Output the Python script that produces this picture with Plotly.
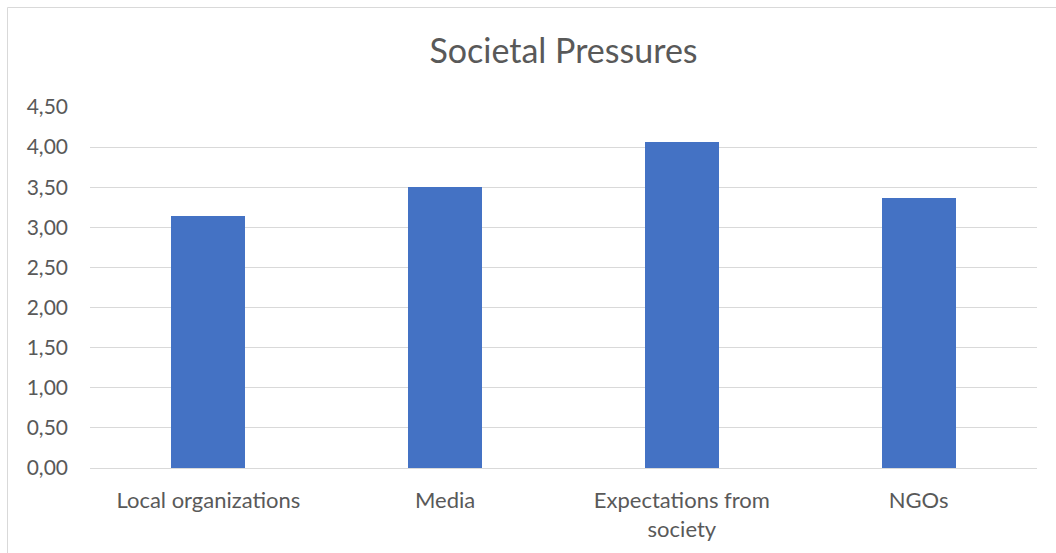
import plotly.graph_objects as go

# Mean scores per source of societal pressure
categories = ["Local organizations", "Media", "Expectations from<br>society", "NGOs"]
scores = [3.14, 3.50, 4.06, 3.36]
tick_values = [0, 0.5, 1.0, 1.5, 2.0, 2.5, 3.0, 3.5, 4.0, 4.5]

font_family = "Lato, 'Open Sans', sans-serif"
text_color = "#595959"
grid_color = "#d9d9d9"

fig = go.Figure(
    go.Bar(
        x=categories,
        y=scores,
        marker=dict(color="#4472C4", line=dict(width=0)),
        width=0.313,
    )
)

fig.update_layout(
    width=1056,
    height=553,
    margin=dict(l=90, r=19, t=107, b=85),
    paper_bgcolor="white",
    plot_bgcolor="white",
    separators=",.",
    showlegend=False,
    title=dict(
        text="Societal Pressures",
        x=0.5,
        xanchor="center",
        xref="paper",
        y=1 - 51 / 553,
        yanchor="middle",
        yref="container",
        font=dict(family=font_family, size=34, color=text_color),
    ),
    font=dict(family=font_family, color=text_color),
    bargap=0,
    shapes=[
        # chart frame
        dict(
            type="rect",
            xref="paper",
            yref="paper",
            x0=(7.5 - 90) / 947,
            x1=(1070 - 90) / 947,
            y0=(468 - 570) / 361,
            y1=(468 - 7.5) / 361,
            line=dict(color="#d9d9d9", width=1),
            fillcolor="rgba(0,0,0,0)",
            layer="below",
        )
    ],
)

fig.update_yaxes(
    range=[0, 4.5],
    tickvals=tick_values,
    tickformat=".2f",
    showgrid=True,
    gridcolor=grid_color,
    gridwidth=1,
    zeroline=False,
    showline=False,
    ticks="",
    ticklabelstandoff=21,
    tickfont=dict(family=font_family, size=21, color=text_color),
)

fig.update_xaxes(
    showgrid=False,
    showline=True,
    linecolor=grid_color,
    linewidth=1,
    ticks="",
    ticklabelstandoff=13,
    tickfont=dict(family=font_family, size=22, color=text_color),
)

fig.write_html("out.html")
